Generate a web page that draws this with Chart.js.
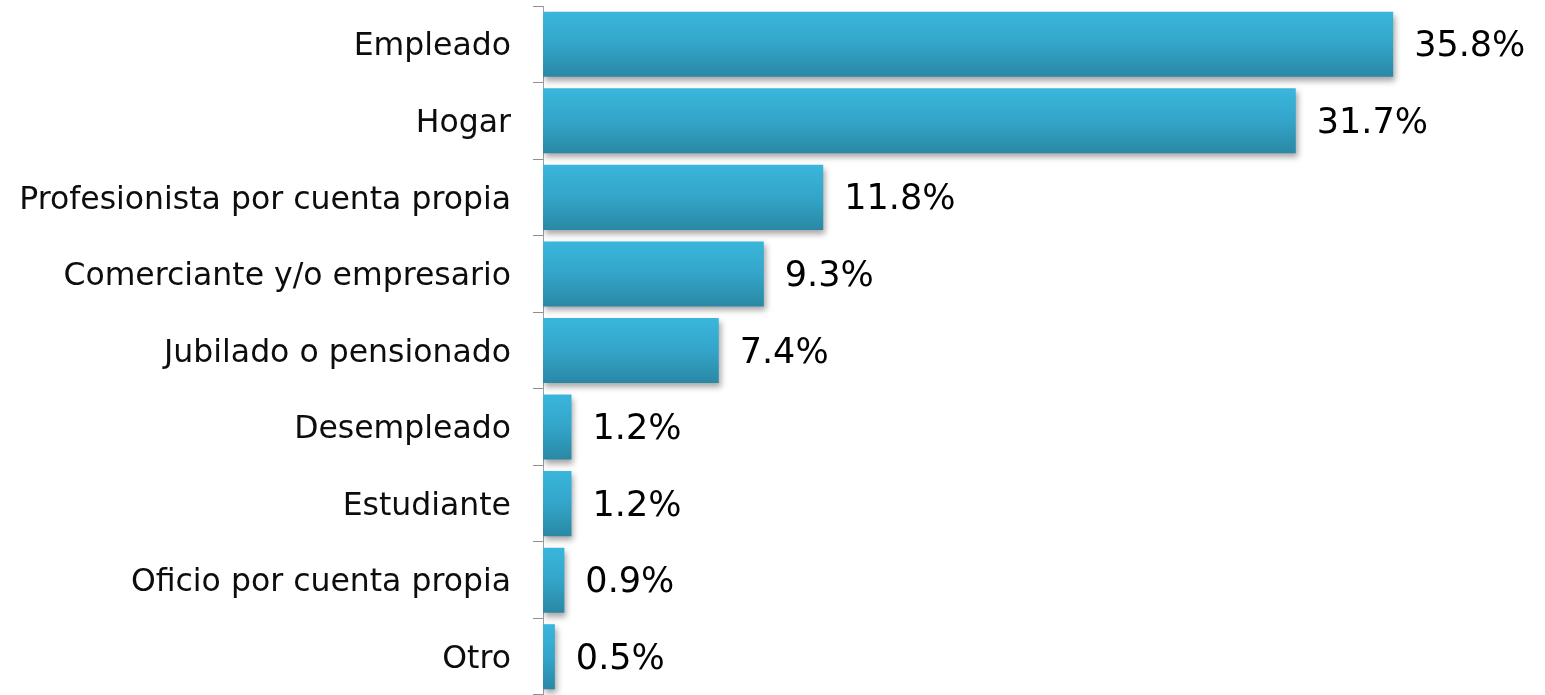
<!DOCTYPE html>
<html>
<head>
<meta charset="utf-8">
<script src="https://cdn.jsdelivr.net/npm/chart.js@4/dist/chart.umd.min.js"></script>
<style>
  html, body { margin: 0; padding: 0; background: #fff; }
  #wrap { width: 1545px; height: 695px; position: relative; }
</style>
</head>
<body>
<div id="wrap"><canvas id="ocupacion"></canvas></div>
<script>
// Ocupación de los encuestados (%)
const categorias = ['Empleado', 'Hogar', 'Profesionista por cuenta propia', 'Comerciante y/o empresario',
    'Jubilado o pensionado', 'Desempleado', 'Estudiante', 'Oficio por cuenta propia', 'Otro'];
const porcentajes = [35.8, 31.7, 11.8, 9.3, 7.4, 1.2, 1.2, 0.9, 0.5];

const FUENTE = "'DejaVu Sans', Verdana, sans-serif";

// degradado vertical por barra: claro arriba, oscuro abajo
function degradadoBarra(c) {
    const chart = c.chart;
    const y = chart.scales.y;
    if (!y || !chart.chartArea) return '#31a3c6';
    const centro = y.getPixelForValue(c.dataIndex);
    const paso = y.getPixelForTick(1) - y.getPixelForTick(0);
    const g = chart.ctx.createLinearGradient(0, centro - paso * 0.43, 0, centro + paso * 0.43);
    g.addColorStop(0, '#3ab6dc');
    g.addColorStop(0.5, '#33a5c9');
    g.addColorStop(1, '#2a87a4');
    return g;
}

// sombra gris debajo de las barras
const sombra = {
    id: 'sombra',
    beforeDatasetsDraw(chart) {
        const ctx = chart.ctx;
        ctx.save();
        ctx.shadowColor = 'rgba(0,0,0,0.35)';
        ctx.shadowBlur = 6;
        ctx.shadowOffsetX = 2;
        ctx.shadowOffsetY = 4;
    },
    afterDatasetsDraw(chart) {
        chart.ctx.restore();
    }
};

// etiquetas de valor a la derecha de cada barra
const etiquetas = {
    id: 'etiquetas',
    afterDatasetsDraw(chart) {
        const ctx = chart.ctx;
        const meta = chart.getDatasetMeta(0);
        ctx.save();
        ctx.font = '35px ' + FUENTE;
        ctx.fillStyle = '#000';
        ctx.textAlign = 'left';
        ctx.textBaseline = 'middle';
        meta.data.forEach((bar, i) => {
            ctx.fillText(porcentajes[i].toFixed(1) + '%', bar.x + 21, bar.y + 3);
        });
        ctx.restore();
    }
};

new Chart(document.getElementById('ocupacion'), {
    type: 'bar',
    data: {
        labels: categorias,
        datasets: [{
            data: porcentajes,
            backgroundColor: degradadoBarra,
            borderWidth: 0,
            categoryPercentage: 1,
            barPercentage: 0.85
        }]
    },
    options: {
        indexAxis: 'y',
        responsive: true,
        maintainAspectRatio: false,
        animation: false,
        layout: { padding: { left: 10, right: 7, top: 6, bottom: 0 } },
        plugins: {
            legend: { display: false },
            tooltip: { enabled: false }
        },
        scales: {
            x: {
                display: false,
                min: 0,
                max: 41.9
            },
            y: {
                afterFit(scale) {
                    scale.width = 533;
                    scale.paddingTop = 0;
                    scale.paddingBottom = 0;
                },
                border: { display: true, color: '#a0a0a0', width: 1 },
                grid: {
                    offset: true,
                    drawOnChartArea: false,
                    drawTicks: true,
                    tickLength: 10,
                    color: '#909090'
                },
                ticks: {
                    padding: 22,
                    labelOffset: 3,
                    color: '#0d0d0d',
                    font: { family: FUENTE, size: 31.5 }
                }
            }
        }
    },
    plugins: [sombra, etiquetas]
});
</script>
</body>
</html>
